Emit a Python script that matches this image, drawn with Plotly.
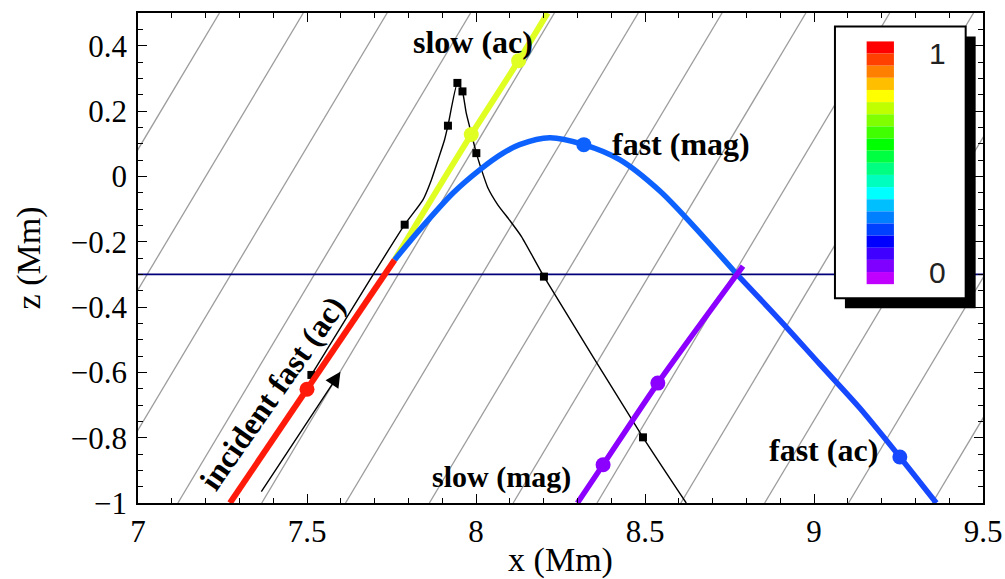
import colorsys
import plotly.graph_objects as go

# ---------------- data ----------------
z_range = [-1.0, 0.5]
x_range = [7.0, 9.5]

# inclined magnetic field lines: x where each line meets z=-1, horizontal run over the plotted height
field_x_bottom = [6.127, 6.375, 6.623, 6.871, 7.118, 7.366, 7.614, 7.862,
                  8.110, 8.358, 8.606, 8.854, 9.102, 9.350]
field_run = 0.866

layer_z = -0.3  # a = c level

# incident fast (acoustic) ray
incident_x = [7.272, 7.759]
incident_z = [-1.0, -0.256]
incident_mx = [7.5]
incident_mz = [-0.652]

# transmitted slow (acoustic) ray
slow_ac_x = [7.759, 7.986, 8.126, 8.212]
slow_ac_z = [-0.256, 0.128, 0.354, 0.5]
slow_ac_mx = [7.986, 8.126]
slow_ac_mz = [0.128, 0.354]

# fast (magnetic) ray, then fast (acoustic) after reaching a=c again
fast_mag_x = [7.759, 7.833, 7.932, 8.011, 8.080, 8.129, 8.218, 8.319, 8.425, 8.544, 8.642, 8.772]
fast_mag_z = [-0.256, -0.164, -0.051, 0.020, 0.071, 0.097, 0.118, 0.097, 0.051, -0.045, -0.150, -0.300]
fast_ac_x = [8.772, 8.899, 9.017, 9.136, 9.254, 9.362]
fast_ac_z = [-0.300, -0.440, -0.575, -0.710, -0.859, -1.0]
fast_mag_mx, fast_mag_mz = [8.319], [0.097]
fast_ac_mx, fast_ac_mz = [9.254], [-0.859]

# slow (magnetic) ray
slow_mag_x = [8.300, 8.376, 8.538, 8.790]
slow_mag_z = [-1.0, -0.883, -0.633, -0.275]
slow_mag_mx = [8.376, 8.538]
slow_mag_mz = [-0.883, -0.633]

# thin black curve
black_x = [7.513, 7.686, 7.789, 7.843, 7.868, 7.888, 7.907, 7.917, 7.945, 7.960,
           7.971, 7.986, 8.001, 8.016, 8.035, 8.065, 8.100, 8.135, 8.201, 8.494, 8.622]
black_z = [-0.608, -0.317, -0.148, -0.072, -0.011, 0.051, 0.112, 0.155, 0.286, 0.260,
           0.194, 0.132, 0.071, 0.021, -0.035, -0.088, -0.135, -0.185, -0.307, -0.799, -1.0]
black_sq_x = [7.513, 7.789, 7.917, 7.945, 7.960, 8.001, 8.201, 8.494]
black_sq_z = [-0.608, -0.148, 0.155, 0.286, 0.260, 0.071, -0.307, -0.799]

# direction arrow
arrow_tail = (7.362, -0.970)
arrow_head = (7.599, -0.598)

# colour key: 20 bands from 1 (top) to 0 (bottom)
key_hues = [15 * i for i in range(20)]
key_labels = ["1", "0"]

# ---------------- colours ----------------
RED = "#ff1a0a"
YELLOW = "#e0ff22"
BLUE_MAG = "#0d62ff"
BLUE_AC = "#1648ff"
PURPLE = "#8c00ff"

SERIF = "Liberation Serif, Times New Roman, serif"

fig = go.Figure()

# field lines
for xb in field_x_bottom:
    fig.add_trace(go.Scatter(x=[xb, xb + field_run], y=z_range, mode="lines",
                             line=dict(color="#9c9c9c", width=1.3),
                             hoverinfo="skip", showlegend=False))

# a=c layer
fig.add_trace(go.Scatter(x=x_range, y=[layer_z, layer_z], mode="lines",
                         line=dict(color="#00007a", width=1.6),
                         hoverinfo="skip", showlegend=False))

# black curve
fig.add_trace(go.Scatter(x=black_x, y=black_z, mode="lines",
                         line=dict(color="black", width=1.4, shape="spline", smoothing=0.5),
                         showlegend=False))
fig.add_trace(go.Scatter(x=black_sq_x, y=black_sq_z, mode="markers",
                         marker=dict(symbol="square", size=8, color="black"),
                         showlegend=False))


def ray(x, z, mx, mz, color, width=5.5):
    fig.add_trace(go.Scatter(x=x, y=z, mode="lines",
                             line=dict(color=color, width=width, shape="spline", smoothing=0.8),
                             showlegend=False))
    fig.add_trace(go.Scatter(x=mx, y=mz, mode="markers",
                             marker=dict(size=15, color=color), showlegend=False))


ray(slow_ac_x, slow_ac_z, slow_ac_mx, slow_ac_mz, YELLOW, 6)
ray(fast_mag_x, fast_mag_z, fast_mag_mx, fast_mag_mz, BLUE_MAG, 5.5)
ray(fast_ac_x, fast_ac_z, fast_ac_mx, fast_ac_mz, BLUE_AC, 5.5)
ray(slow_mag_x, slow_mag_z, slow_mag_mx, slow_mag_mz, PURPLE, 5.5)
ray(incident_x, incident_z, incident_mx, incident_mz, RED, 6)

# invisible trace to carry the top/right tick axes
fig.add_trace(go.Scatter(x=[x_range[0]], y=[z_range[0]], xaxis="x2", yaxis="y2", mode="markers",
                         marker=dict(opacity=0), hoverinfo="skip", showlegend=False))

# ---------------- annotations ----------------
bold = dict(family=SERIF, size=32, color="black")
ann = [
    dict(x=7.99, y=0.41, text="<b>slow (ac)</b>", showarrow=False, font=bold),
    dict(x=8.396, y=0.100, text="<b>fast (mag)</b>", showarrow=False, font=bold, xanchor="left"),
    dict(x=9.196, y=-0.838, text="<b>fast (ac)</b>", showarrow=False, font=bold, xanchor="right"),
    dict(x=8.286, y=-0.920, text="<b>slow (mag)</b>", showarrow=False,
         font=dict(family=SERIF, size=30, color="black"), xanchor="right"),
    dict(x=7.396, y=-0.662, text="<b>incident fast (ac)</b>", showarrow=False, font=bold, textangle=-55),
    dict(x=arrow_head[0], y=arrow_head[1], ax=arrow_tail[0], ay=arrow_tail[1],
         xref="x", yref="y", axref="x", ayref="y", text="", showarrow=True,
         arrowhead=2, arrowsize=2.2, arrowwidth=1.4, arrowcolor="black"),
]

# colour key box (paper coords = plot area)
shapes = []
bx0, bx1, by0, by1 = 0.8248, 0.9795, 0.418, 0.9726
sh = 0.0118   # shadow offset x
shy = 0.0204  # shadow offset y
shapes.append(dict(type="rect", xref="paper", yref="paper", x0=bx0 + sh, x1=bx1 + sh,
                   y0=by0 - shy, y1=by1 - shy, fillcolor="black", line=dict(width=0), layer="above"))
shapes.append(dict(type="rect", xref="paper", yref="paper", x0=bx0, x1=bx1, y0=by0, y1=by1,
                   fillcolor="white", line=dict(color="black", width=2), layer="above"))
cx0, cx1, cy_top, cy_bot = 0.8623, 0.8946, 0.942, 0.4466
n = len(key_hues)
bh = (cy_top - cy_bot) / n
for i, h in enumerate(key_hues):
    r, g, b = colorsys.hsv_to_rgb(h / 360.0, 1, 1)
    col = "rgb(%d,%d,%d)" % (round(r * 255), round(g * 255), round(b * 255))
    shapes.append(dict(type="rect", xref="paper", yref="paper", x0=cx0, x1=cx1,
                       y0=cy_top - (i + 1) * bh, y1=cy_top - i * bh,
                       fillcolor=col, line=dict(width=0), layer="above"))
sans = dict(family="Liberation Sans, DejaVu Sans, sans-serif", size=30, color="#222")
ann.append(dict(x=0.946, y=0.918, xref="paper", yref="paper", xanchor="center", yanchor="middle",
                text=key_labels[0], showarrow=False, font=sans))
ann.append(dict(x=0.946, y=0.47, xref="paper", yref="paper", xanchor="center", yanchor="middle",
                text=key_labels[1], showarrow=False, font=sans))

tickfont = dict(family=SERIF, size=31, color="black")
common = dict(showgrid=False, zeroline=False, showline=True, linecolor="black", linewidth=1.5,
              ticks="inside", ticklen=9, tickwidth=1.2, tickcolor="black", automargin=False)

fig.update_layout(
    width=1005, height=579,
    margin=dict(l=138, r=22, t=13, b=76, autoexpand=False),
    plot_bgcolor="white", paper_bgcolor="white",
    xaxis=dict(range=x_range, dtick=0.5, tick0=7, tickfont=tickfont,
               minor=dict(dtick=0.1, ticks="inside", ticklen=5, tickwidth=1, tickcolor="black", showgrid=False),
               title=dict(text="x (Mm)", font=dict(family=SERIF, size=34, color="black"), standoff=3),
               **common),
    yaxis=dict(range=z_range, dtick=0.2, tick0=0, tickfont=tickfont, ticklabelstandoff=3,
               minor=dict(dtick=0.05, ticks="inside", ticklen=5, tickwidth=1, tickcolor="black", showgrid=False),
               title=dict(text="z (Mm)", font=dict(family=SERIF, size=34, color="black"), standoff=20),
               **common),
    xaxis2=dict(range=x_range, dtick=0.5, tick0=7, overlaying="x", side="top", showticklabels=False,
                minor=dict(dtick=0.1, ticks="inside", ticklen=5, tickwidth=1, tickcolor="black", showgrid=False),
                **common),
    yaxis2=dict(range=z_range, dtick=0.2, tick0=0, overlaying="y", side="right", showticklabels=False,
                minor=dict(dtick=0.05, ticks="inside", ticklen=5, tickwidth=1, tickcolor="black", showgrid=False),
                **common),
    annotations=ann, shapes=shapes, showlegend=False,
)

fig.write_html("out.html")
